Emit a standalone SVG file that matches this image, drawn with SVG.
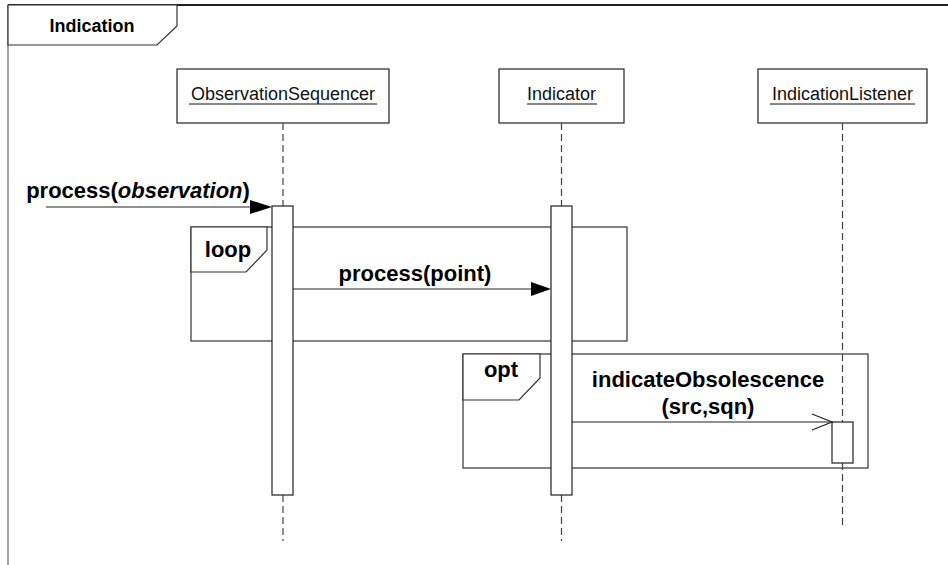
<svg xmlns="http://www.w3.org/2000/svg" width="948" height="565" viewBox="0 0 948 565">
  <style>
    .frame { fill: none; stroke: #333; stroke-width: 1.2; }
    .tab { fill: #fff; stroke: #333; stroke-width: 1.2; }
    .box { fill: #fff; stroke: #222; stroke-width: 1.2; }
    .life { stroke: #444; stroke-width: 1.2; stroke-dasharray: 7 4; fill: none; }
    .act { fill: #fff; stroke: #222; stroke-width: 1.2; }
    .msg { stroke: #222; stroke-width: 1.2; fill: none; }
    .head { fill: #000; stroke: none; }
    .name { font-family: "Liberation Sans", Arial, sans-serif; font-size: 18px; fill: #111; text-anchor: middle; }
    .ul { stroke: #111; stroke-width: 1; }
    .lbl { font-family: "Liberation Sans", Arial, sans-serif; font-size: 22px; font-weight: bold; fill: #000; text-anchor: middle; }
    .title { font-family: "Liberation Sans", Arial, sans-serif; font-size: 18px; font-weight: bold; fill: #000; text-anchor: middle; }
  </style>

  <!-- outer diagram frame -->
  <g id="frame">
    <line x1="8" y1="5" x2="948" y2="5" stroke="#222" stroke-width="1.8"/>
    <line x1="8" y1="5" x2="8" y2="565" stroke="#666" stroke-width="1.2"/>
    <path class="tab" d="M8,5 H177 V26 L157,45 H8 Z"/>
    <text class="title" x="92" y="32">Indication</text>
  </g>

  <!-- combined fragments -->
  <g id="loop">
    <rect class="frame" x="191" y="227" width="436" height="114"/>
    <path class="tab" d="M191,227 H267 V250 L246,272 H191 Z"/>
    <text class="lbl" x="228" y="257">loop</text>
  </g>
  <g id="opt">
    <rect class="frame" x="463" y="354" width="405" height="114"/>
    <path class="tab" d="M463,354 H540 V378 L519,400 H463 Z"/>
    <text class="lbl" x="501" y="377">opt</text>
  </g>

  <!-- lifelines -->
  <g id="ObservationSequencer">
    <rect class="box" x="177" y="69" width="212" height="54"/>
    <text class="name" x="283" y="100">ObservationSequencer</text>
    <line class="ul" x1="189" y1="104" x2="377" y2="104"/>
    <line class="life" x1="283" y1="123" x2="283" y2="206"/>
    <line class="life" x1="283" y1="495" x2="283" y2="541"/>
    <rect class="act" x="272" y="206" width="21" height="289"/>
  </g>
  <g id="Indicator">
    <rect class="box" x="499" y="69" width="125" height="54"/>
    <text class="name" x="561.5" y="100">Indicator</text>
    <line class="ul" x1="527" y1="104" x2="597" y2="104"/>
    <line class="life" x1="561.5" y1="123" x2="561.5" y2="206"/>
    <line class="life" x1="561.5" y1="495" x2="561.5" y2="541"/>
    <rect class="act" x="551" y="206" width="21" height="289"/>
  </g>
  <g id="IndicationListener">
    <rect class="box" x="758" y="69" width="169" height="54"/>
    <text class="name" x="842.5" y="100">IndicationListener</text>
    <line class="ul" x1="770" y1="104" x2="915" y2="104"/>
    <line class="life" x1="842.5" y1="123" x2="842.5" y2="422"/>
    <line class="life" x1="842.5" y1="463" x2="842.5" y2="528"/>
    <rect class="act" x="832" y="422" width="21" height="41"/>
  </g>

  <!-- messages -->
  <g id="connectors">
    <line class="msg" x1="46" y1="207" x2="252" y2="207"/>
    <polygon class="head" points="272,207 250,200 250,214"/>
    <text class="lbl" x="138" y="198">process(<tspan font-style="italic">observation</tspan>)</text>

    <line class="msg" x1="293" y1="289" x2="533" y2="289"/>
    <polygon class="head" points="551,289 531,282 531,296"/>
    <text class="lbl" x="415" y="281">process(point)</text>

    <line class="msg" x1="572" y1="422" x2="832" y2="422"/>
    <polyline class="msg" points="812,414 832,422 812,430"/>
    <text class="lbl" x="708" y="387">indicateObsolescence</text>
    <text class="lbl" x="708" y="414">(src,sqn)</text>
  </g>
</svg>
